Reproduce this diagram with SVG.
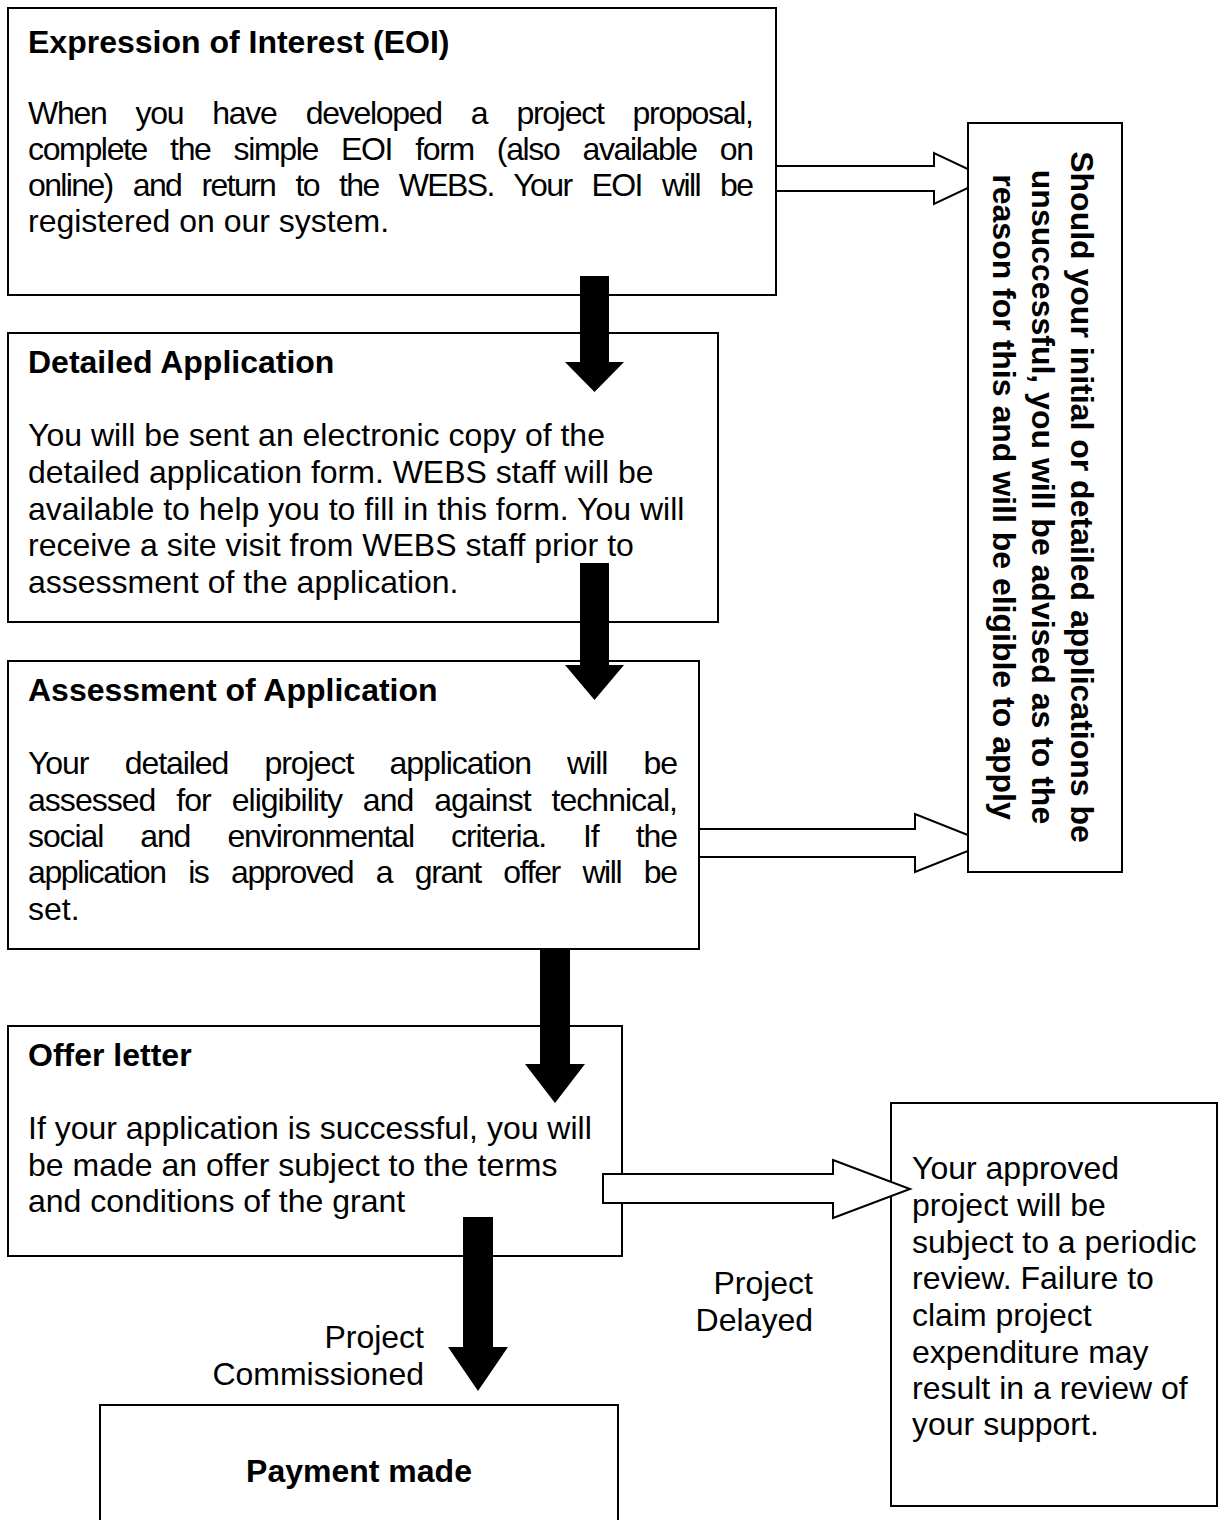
<svg xmlns="http://www.w3.org/2000/svg" width="1219" height="1520" viewBox="0 0 1219 1520">
<style>
.box{fill:#fff;stroke:#000;stroke-width:2}
.t{font-family:"Liberation Sans",Arial,Helvetica,sans-serif;font-size:32px;fill:#000}
.b{font-weight:bold}
.hollow{fill:#fff;stroke:#000;stroke-width:2;stroke-linejoin:miter}
.solid{fill:#000;stroke:none}
</style>
<rect width="1219" height="1520" fill="#fff"/>
<g id="eoi">
<rect class="box" x="8" y="8" width="768" height="287"/>
<text class="t b" x="28" y="53">Expression of Interest (EOI)</text>
<text class="t" x="28" y="124" word-spacing="21.4" textLength="726" lengthAdjust="spacing">When you have developed a project proposal,</text>
<text class="t" x="28" y="160" word-spacing="15.5" textLength="726" lengthAdjust="spacing">complete the simple EOI form (also available on</text>
<text class="t" x="28" y="196" word-spacing="12.9" textLength="726" lengthAdjust="spacing">online) and return to the WEBS. Your EOI will be</text>
<text class="t" x="28" y="232">registered on our system.</text>
</g>
<g id="detailed">
<rect class="box" x="8" y="333" width="710" height="289"/>
<text class="t b" x="28" y="373">Detailed Application</text>
<text class="t" x="28" y="446">You will be sent an electronic copy of the</text>
<text class="t" x="28" y="483">detailed application form. WEBS staff will be</text>
<text class="t" x="28" y="520">available to help you to fill in this form. You will</text>
<text class="t" x="28" y="556">receive a site visit from WEBS staff prior to</text>
<text class="t" x="28" y="593">assessment of the application.</text>
</g>
<g id="assessment">
<rect class="box" x="8" y="661" width="691" height="288"/>
<text class="t b" x="28" y="701">Assessment of Application</text>
<text class="t" x="28" y="774" word-spacing="28.3" textLength="650" lengthAdjust="spacing">Your detailed project application will be</text>
<text class="t" x="28" y="811" word-spacing="13" textLength="650" lengthAdjust="spacing">assessed for eligibility and against technical,</text>
<text class="t" x="28" y="847" word-spacing="29.3" textLength="650" lengthAdjust="spacing">social and environmental criteria. If the</text>
<text class="t" x="28" y="883" word-spacing="15.1" textLength="650" lengthAdjust="spacing">application is approved a grant offer will be</text>
<text class="t" x="28" y="920">set.</text>
</g>
<g id="offer">
<rect class="box" x="8" y="1026" width="614" height="230"/>
<text class="t b" x="28" y="1066">Offer letter</text>
<text class="t" x="28" y="1139">If your application is successful, you will</text>
<text class="t" x="28" y="1175.5">be made an offer subject to the terms</text>
<text class="t" x="28" y="1212">and conditions of the grant</text>
</g>
<g id="payment">
<rect class="box" x="100" y="1405" width="518" height="130"/>
<text class="t b" x="359" y="1482" text-anchor="middle">Payment made</text>
</g>
<g id="review">
<rect class="box" x="891" y="1103" width="326" height="403"/>
<text class="t" x="912" y="1179">Your approved</text>
<text class="t" x="912" y="1216">project will be</text>
<text class="t" x="912" y="1253">subject to a periodic</text>
<text class="t" x="912" y="1289">review. Failure to</text>
<text class="t" x="912" y="1326">claim project</text>
<text class="t" x="912" y="1363">expenditure may</text>
<text class="t" x="912" y="1399">result in a review of</text>
<text class="t" x="912" y="1435">your support.</text>
</g>
<g id="connectors">
<polygon class="hollow" points="776,166 934,166 934,153 988,178.5 934,204 934,191 776,191"/>
<polygon class="hollow" points="699,829 915,829 915,814 988,843 915,872 915,857 699,857"/>
<polygon class="hollow" points="603,1174 833,1174 833,1160 910,1189 833,1218 833,1203 603,1203"/>
<polygon class="solid" points="580,276 609,276 609,362 624,362 594.5,392 565,362 580,362"/>
<polygon class="solid" points="580,563 609,563 609,665 624,665 594.5,700 565,665 580,665"/>
<polygon class="solid" points="540,949 570,949 570,1064 585,1064 555,1103 525,1064 540,1064"/>
<polygon class="solid" points="463,1217 493,1217 493,1347 508,1347 478,1391 448,1347 463,1347"/>
<text class="t" x="424" y="1348" text-anchor="end">Project</text>
<text class="t" x="424" y="1385" text-anchor="end">Commissioned</text>
<text class="t" x="813" y="1294" text-anchor="end">Project</text>
<text class="t" x="813" y="1331" text-anchor="end">Delayed</text>
</g>
<g id="unsuccessful">
<rect class="box" x="968" y="123" width="154" height="749"/>
<text class="t b" transform="translate(1071,497) rotate(90)" text-anchor="middle"><tspan x="0" y="0">Should your initial or detailed applications be</tspan><tspan x="0" y="39">unsuccessful, you will be advised as to the</tspan><tspan x="0" y="78">reason for this and will be eligible to apply</tspan></text>
</g>
</svg>
